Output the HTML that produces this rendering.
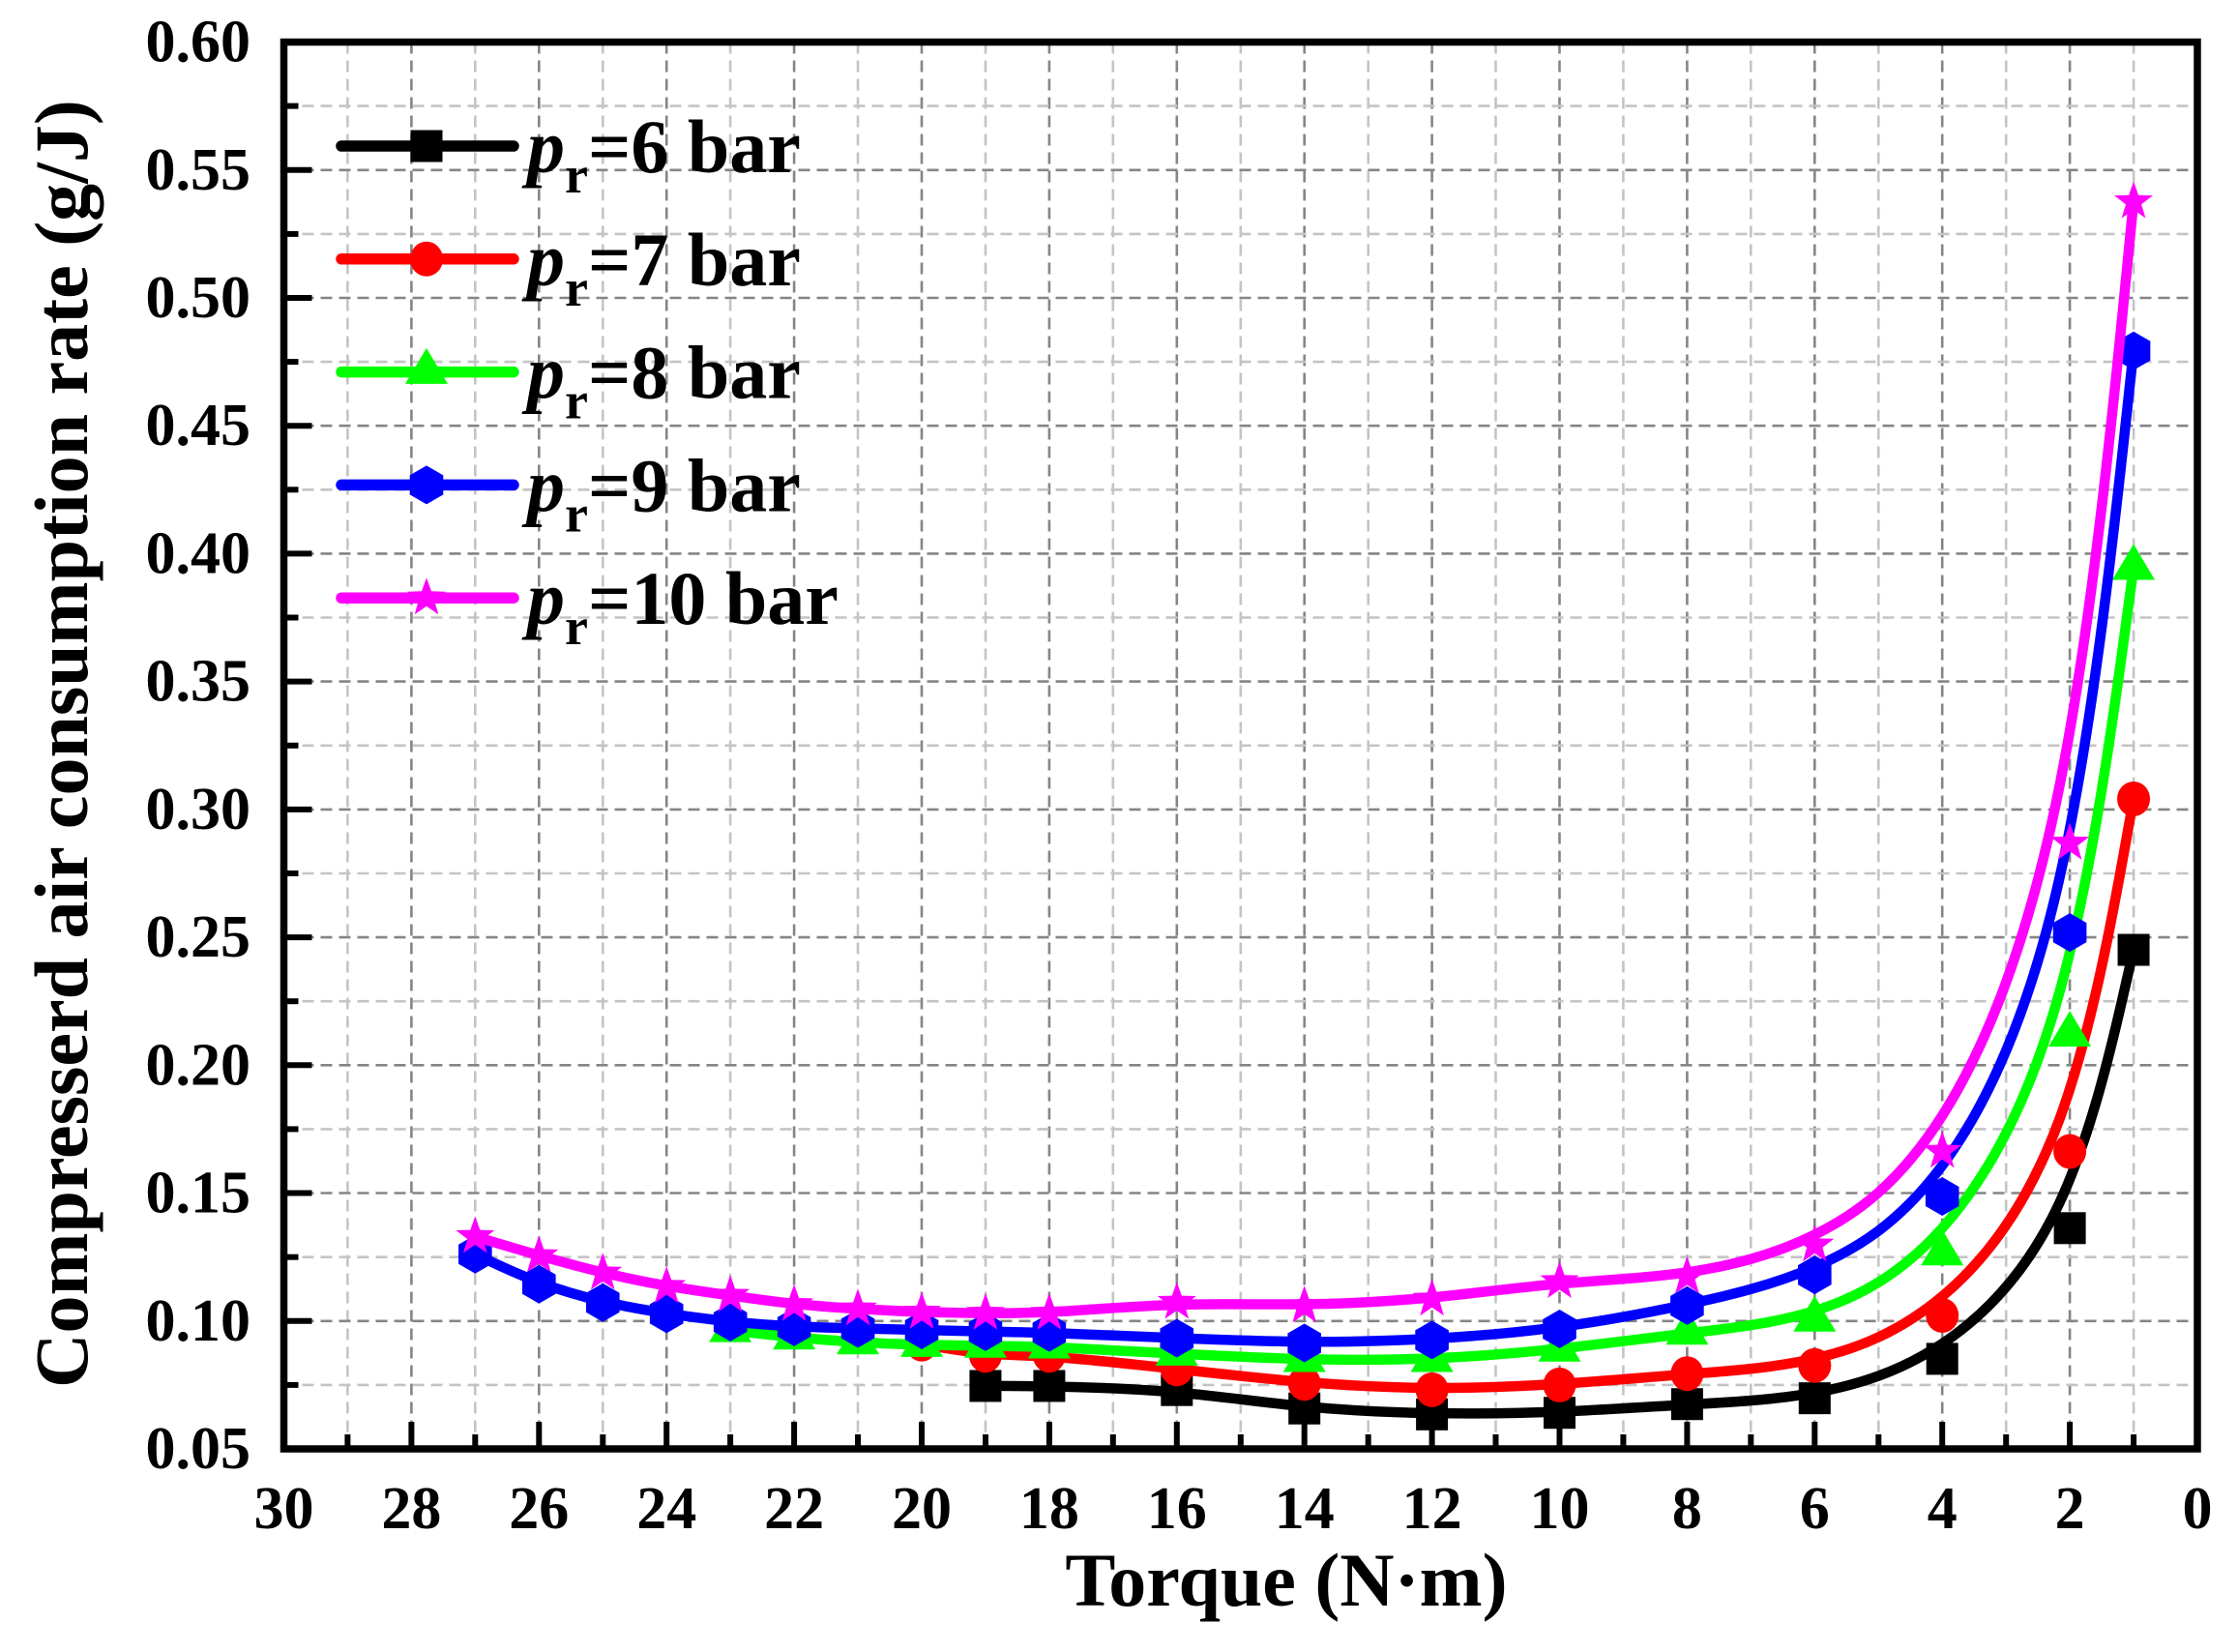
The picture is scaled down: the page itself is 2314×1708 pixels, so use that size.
<!DOCTYPE html>
<html><head><meta charset="utf-8"><style>
html,body{margin:0;padding:0;background:#fff;}
svg{display:block;}
text{font-family:"Liberation Serif","Times New Roman",serif;font-weight:bold;fill:#000;}
</style></head><body>
<svg id="chart" width="2314" height="1708" viewBox="0 0 2314 1708" xmlns="http://www.w3.org/2000/svg">
<rect width="2314" height="1708" fill="#fff"/>
<g id="grid"></g>
<g id="data"></g>
<g id="frame"></g>
<g id="labels"></g>
<text transform="translate(90,769) rotate(-90)" text-anchor="middle" font-size="78">Compresserd air consumption rate (g/J)</text>
<text x="1330" y="1660" text-anchor="middle" font-size="78">Torque (N·m)</text>
<g id="legend"></g>
</svg>
<script>
(function(){
const X=t=>2272-65.95*t;
const Y=v=>1498-(v-0.05)*2644.5;
const L=293.5,R=2272,T=43.5,B=1498;
let g='';
// vertical grid
for(let t=1;t<30;t++){
  const x=X(t).toFixed(1);
  const c=(t%2==0)?'#858585':'#c4c4c4';
  g+=`<line x1="${x}" y1="${T}" x2="${x}" y2="${B}" stroke="${c}" stroke-width="2.6" stroke-dasharray="12 7"/>`;
}
// horizontal grid
for(let k=1;k<22;k++){
  const v=0.05+k*0.025;
  const y=Y(v).toFixed(1);
  const c=(k%2==0)?'#858585':'#c4c4c4';
  g+=`<line x1="${L}" y1="${y}" x2="${R}" y2="${y}" stroke="${c}" stroke-width="2.6" stroke-dasharray="12 7"/>`;
}
document.getElementById('grid').innerHTML=g;

// frame & ticks
let f='';
f+=`<rect x="${L}" y="${T}" width="${R-L}" height="${B-T}" fill="none" stroke="#000" stroke-width="7.5"/>`;
for(let t=1;t<30;t++){
  const x=X(t).toFixed(1);
  const len=(t%2==0)?28:15;
  f+=`<line x1="${x}" y1="${B}" x2="${x}" y2="${B-len}" stroke="#000" stroke-width="6"/>`;
}
for(let k=1;k<22;k++){
  const y=Y(0.05+k*0.025).toFixed(1);
  const len=(k%2==0)?29:15;
  f+=`<line x1="${L}" y1="${y}" x2="${L+len}" y2="${y}" stroke="#000" stroke-width="6"/>`;
}
document.getElementById('frame').innerHTML=f;

// tick labels
let lb='';
for(let k=0;k<=11;k++){
  const v=0.05+k*0.05;
  lb+=`<text x="259" y="${(Y(v)+20).toFixed(1)}" text-anchor="end" font-size="62">${v.toFixed(2)}</text>`;
}
for(let t=0;t<=30;t+=2){
  lb+=`<text x="${X(t).toFixed(1)}" y="1580" text-anchor="middle" font-size="62">${t}</text>`;
}
document.getElementById('labels').innerHTML=lb;

// markers
function marker(type,x,y,c){
  if(type==='sq') return `<rect x="${x-16.5}" y="${y-16.5}" width="33" height="33" fill="${c}"/>`;
  if(type==='ci') return `<ellipse cx="${x}" cy="${y}" rx="17" ry="18" fill="${c}"/>`;
  if(type==='tr') return `<polygon points="${x},${y-24.7} ${x+22},${y+12.3} ${x-22},${y+12.3}" fill="${c}"/>`;
  if(type==='hx'){const r=20,w=17.3;return `<polygon points="${x},${y-r} ${x+w},${y-r/2} ${x+w},${y+r/2} ${x},${y+r} ${x-w},${y+r/2} ${x-w},${y-r/2}" fill="${c}"/>`;}
  if(type==='st'){
    let p=[];const Ro=21,Ri=8.5;
    for(let i=0;i<10;i++){const a=-Math.PI/2+i*Math.PI/5;const rr=(i%2==0)?Ro:Ri;p.push((x+rr*Math.cos(a)).toFixed(1)+','+(y+rr*Math.sin(a)).toFixed(1));}
    return `<polygon points="${p.join(' ')}" fill="${c}"/>`;
  }
}
function bspline(P){
  const n=P.length;
  const Q=[P[0],P[0]].concat(P).concat([P[n-1],P[n-1]]);
  let d=`M${P[0][0].toFixed(1)},${P[0][1].toFixed(1)}`;
  for(let i=0;i<Q.length-3;i++){
    const a=Q[i],b=Q[i+1],c=Q[i+2],e=Q[i+3];
    const c1=[(2*b[0]+c[0])/3,(2*b[1]+c[1])/3];
    const c2=[(b[0]+2*c[0])/3,(b[1]+2*c[1])/3];
    const en=[(b[0]+4*c[0]+e[0])/6,(b[1]+4*c[1]+e[1])/6];
    d+=` C${c1[0].toFixed(1)},${c1[1].toFixed(1)} ${c2[0].toFixed(1)},${c2[1].toFixed(1)} ${en[0].toFixed(1)},${en[1].toFixed(1)}`;
  }
  return d;
}
const series=[
 {c:'#000000',m:'sq',d:[[19,.0746],[18,.0746],[16,.073],[14,.0658],[12,.0635],[10,.0641],[8,.0675],[6,.0698],[4,.0852],[2,.1363],[1,.2451]]},
 {c:'#ff0000',m:'ci',d:[[20,.091],[19,.0866],[18,.0866],[16,.0813],[14,.0756],[12,.0731],[10,.075],[8,.0794],[6,.0826],[4,.1022],[2,.1663],[1,.3041]]},
 {c:'#00ff00',m:'tr',d:[[23,.0964],[22,.0935],[21,.0916],[20,.0906],[19,.0903],[18,.0900],[16,.0872],[14,.0847],[12,.0847],[10,.0888],[8,.0954],[6,.1005],[4,.1264],[2,.2119],[1,.3944]]},
 {c:'#0000ff',m:'hx',d:[[27,.1261],[26,.1144],[25,.1072],[24,.1028],[23,.0996],[22,.0977],[21,.0971],[20,.0965],[19,.0958],[18,.0955],[16,.0933],[14,.0914],[12,.0926],[10,.0969],[8,.106],[6,.118],[4,.1487],[2,.2519],[1,.4793]]},
 {c:'#ff00ff',m:'st',d:[[27,.133],[26,.1255],[25,.1187],[24,.1135],[23,.110],[22,.1064],[21,.1047],[20,.1034],[19,.103],[18,.103],[16,.1073],[14,.1059],[12,.1085],[10,.1154],[8,.1173],[6,.1297],[4,.1663],[2,.2868],[1,.5376]]}
];
let s='';
series.forEach(S=>{
  const P=S.d.map(p=>[X(p[0]),Y(p[1])]);
  s+=`<path d="${bspline(P)}" fill="none" stroke="${S.c}" stroke-width="10.5" stroke-linejoin="round" stroke-linecap="round"/>`;
  P.forEach(p=>{s+=marker(S.m,p[0],p[1],S.c);});
});
document.getElementById('data').innerHTML=s;

// legend
let lg='';
const names=['6','7','8','9','10'];
const ly=[151,267.8,384.6,501.4,618.2];
series.forEach((S,i)=>{
  const y=ly[i];
  lg+=`<line x1="353" y1="${y}" x2="531" y2="${y}" stroke="${S.c}" stroke-width="11.5" stroke-linecap="round"/>`;
  lg+=marker(S.m,441,y,S.c);
  lg+=`<text x="545" y="${(y+27).toFixed(1)}" font-size="78"><tspan font-style="italic">p</tspan><tspan font-size="54" dy="21">r</tspan><tspan dy="-21">=${names[i]} bar</tspan></text>`;
});
document.getElementById('legend').innerHTML=lg;
})();
</script>
</body></html>
